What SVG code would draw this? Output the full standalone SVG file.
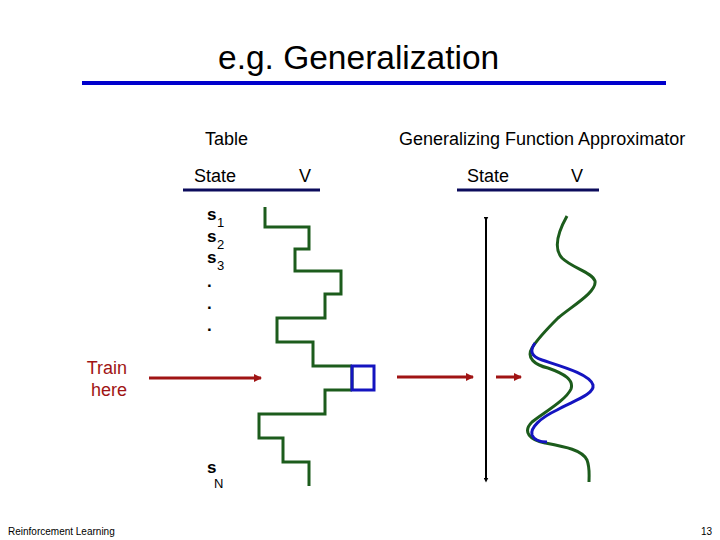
<svg xmlns="http://www.w3.org/2000/svg" width="720" height="540" viewBox="0 0 720 540">
<style>
text{font-family:"Liberation Sans",Arial,sans-serif;fill:#000}
.h{font-size:18px}
.s{font-size:17px;font-weight:bold}
.sub{font-size:13px}
.red{fill:#a01414}
.arrow{stroke:#a01414;stroke-width:3;fill:none}
.green{stroke:#1c5c1c;stroke-width:3;fill:none;stroke-linejoin:miter}
.blue{stroke:#1414c0;stroke-width:3;fill:none}
.ul{stroke:#0c0c5c;stroke-width:3}
</style>
<defs>
<marker id="ah" viewBox="0 0 8 8" refX="7" refY="4" markerWidth="8" markerHeight="8" markerUnits="userSpaceOnUse" orient="auto">
<path d="M0,0 L8,4 L0,8 z" fill="#a01414"/>
</marker>
<marker id="bh" viewBox="0 0 6 6" refX="3" refY="3" markerWidth="5" markerHeight="5" markerUnits="userSpaceOnUse" orient="auto">
<path d="M0,0 L6,3 L0,6 z" fill="#000"/>
</marker>
</defs>
<rect width="720" height="540" fill="#fff"/>
<g id="title">
<text x="218" y="69" style="font-size:33.5px">e.g. Generalization</text>
<line x1="82" y1="83" x2="666" y2="83" stroke="#0000cc" stroke-width="4"/>
</g>
<g id="table-header">
<text class="h" x="205" y="145">Table</text>
<text class="h" x="194" y="182">State</text>
<text class="h" x="299" y="182">V</text>
<line class="ul" x1="183" y1="190" x2="320" y2="190"/>
</g>
<g id="approx-header">
<text class="h" x="399" y="145">Generalizing Function Approximator</text>
<text class="h" x="467" y="182">State</text>
<text class="h" x="571" y="182">V</text>
<line class="ul" x1="457" y1="190" x2="599" y2="190"/>
</g>
<g id="states">
<text class="s" x="207" y="220">s</text><text class="sub" x="217" y="227">1</text>
<text class="s" x="207" y="242">s</text><text class="sub" x="217" y="249">2</text>
<text class="s" x="207" y="263">s</text><text class="sub" x="217" y="270">3</text>
<text class="s" x="207" y="287">.</text>
<text class="s" x="207" y="309">.</text>
<text class="s" x="207" y="331">.</text>
<text class="s" x="207" y="473">s</text><text class="sub" x="214" y="488">N</text>
</g>
<g id="train-label">
<text class="h red" x="127" y="374" text-anchor="end">Train</text>
<text class="h red" x="127" y="396" text-anchor="end">here</text>
</g>
<g id="table-values">
<path class="green" d="M265,207 V227 H309 V249 H295 V271 H341 V294 H325 V318 H277 V342 H313 V366 H352 M352,390 H325 V414 H259 V438 H283 V462 H309 V486 M352,366 V390"/>
<rect class="blue" x="352" y="366" width="22" height="24"/>
</g>
<g id="state-axis">
<line x1="486" y1="219" x2="486" y2="480" stroke="#000" stroke-width="2" marker-start="url(#bh)" marker-end="url(#bh)"/>
</g>
<g id="approx-curves">
<path class="green" d="M567,216 C558,232 553,248 562,258 C572,268 592,272 595,281 C597,292 572,306 558,318 C548,328 538,338 532,348 C526,358 535,365 548,368 C565,374 574,380 571,389 C566,400 545,412 532,422 C522,432 530,440 545,443 C566,447 582,450 587,460 C590,468 589,475 589,482"/>
<path class="blue" d="M535,343 C530,350 530,356 542,360 C560,366 590,374 593,385 C595,395 570,402 557,410 C540,418 530,428 532,435 C534,440 540,442 547,442"/>
</g>
<g id="connectors">
<line class="arrow" x1="149" y1="378" x2="261" y2="378" marker-end="url(#ah)"/>
<line class="arrow" x1="397" y1="377" x2="473" y2="377" marker-end="url(#ah)"/>
<line class="arrow" x1="496" y1="377" x2="521" y2="377" marker-end="url(#ah)"/>
</g>
<g id="footer">
<text x="8" y="535" style="font-size:10px">Reinforcement Learning</text>
<text x="712" y="535" style="font-size:10px" text-anchor="end">13</text>
</g>
</svg>
